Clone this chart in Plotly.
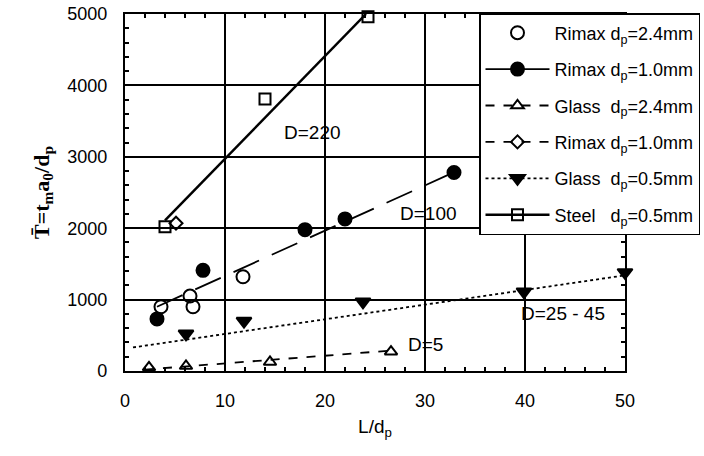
import plotly.graph_objects as go

# ---- data ----
rimax24_x = [3.6, 6.5, 6.8, 11.8]
rimax24_y = [900, 1050, 900, 1320]

rimax10_x = [3.2, 7.8, 18.0, 22.0, 32.9]
rimax10_y = [730, 1410, 1980, 2130, 2780]
rimax10_fit_x = [3.2, 33.0]
rimax10_fit_y = [900, 2790]

glass24_x = [2.4, 6.1, 14.5, 26.6]
glass24_y = [50, 70, 126, 270]
glass24_fit_x = [2.0, 27.0]
glass24_fit_y = [20, 290]

rimaxd_x = [5.1]
rimaxd_y = [2070]

glass05_x = [6.1, 11.9, 23.8, 39.9, 50.0]
glass05_y = [520, 700, 970, 1110, 1380]
glass05_fit_x = [0.8, 50.0]
glass05_fit_y = [330, 1340]

steel_x = [4.0, 14.0, 24.3]
steel_y = [2020, 3810, 4960]
steel_fit_x = [4.0, 24.1]
steel_fit_y = [2110, 5000]

labels = ["Rimax d<sub>p</sub>=2.4mm", "Rimax d<sub>p</sub>=1.0mm", "Glass  d<sub>p</sub>=2.4mm",
          "Rimax d<sub>p</sub>=1.0mm", "Glass  d<sub>p</sub>=0.5mm", "Steel   d<sub>p</sub>=0.5mm"]

ann_text = ["D=220", "D=100", "D=25 - 45", "D=5"]
ann_x = [18.7, 30.3, 43.8, 30.0]
ann_y = [3340, 2210, 800, 365]

FONT = "Liberation Sans, Arial, sans-serif"
K = "black"

fig = go.Figure()

series = [
    # x, y, fitx, fity, symbol, size, dash, label
    (rimax24_x, rimax24_y, None, None, "circle-open", 13, None, labels[0]),
    (rimax10_x, rimax10_y, rimax10_fit_x, rimax10_fit_y, "circle", 13, "28px,14px", labels[1]),
    (glass24_x, glass24_y, glass24_fit_x, glass24_fit_y, "triangle-up-open", 11, "dash", labels[2]),
    (rimaxd_x, rimaxd_y, None, None, "diamond-open", 10, "dash", labels[3]),
    (glass05_x, glass05_y, glass05_fit_x, glass05_fit_y, "triangle-down", 13, "dot", labels[4]),
    (steel_x, steel_y, steel_fit_x, steel_fit_y, "square-open", 11, "solid", labels[5]),
]

for i, (x, y, fx, fy, sym, sz, dash, lab) in enumerate(series):
    g = f"g{i}"
    lw = 2.5 if dash == "solid" else 1.8
    if fx is not None:
        fig.add_trace(go.Scatter(x=fx, y=fy, mode="lines", line=dict(color=K, width=lw, dash=dash),
                                 showlegend=False, legendgroup=g, hoverinfo="skip"))
    fig.add_trace(go.Scatter(x=x, y=y, mode="markers",
                             marker=dict(symbol=sym, size=sz, color=K, line=dict(color=K, width=2)),
                             showlegend=False, legendgroup=g, cliponaxis=False))
    # legend entry
    fig.add_trace(go.Scatter(x=[None], y=[None], mode="markers" if dash is None else "lines+markers",
                             marker=dict(symbol=sym, size=sz, color=K, line=dict(color=K, width=2)),
                             line=dict(color=K, width=lw, dash=dash if dash != "28px,14px" else "solid"),
                             name=lab, legendgroup=g, showlegend=True))

for t, x, y in zip(ann_text, ann_x, ann_y):
    fig.add_annotation(x=x, y=y, text=t, showarrow=False, font=dict(family=FONT, size=19, color=K))

axis_common = dict(
    showline=True, linecolor=K, linewidth=2.2, mirror="ticks",
    ticks="inside", ticklen=7, tickwidth=1.5, tickcolor=K,
    showgrid=True, gridcolor=K, gridwidth=1.5, zeroline=False,
    tickfont=dict(family=FONT, size=18, color=K),
)

fig.update_xaxes(range=[0, 50], dtick=10, tick0=0,
                 minor=dict(dtick=2, ticks="inside", ticklen=4, tickcolor=K, showgrid=False),
                 ticklabelstandoff=12,
                 title=dict(text="L/d<sub>p</sub>", font=dict(family=FONT, size=19, color=K), standoff=10),
                 **axis_common)
fig.update_yaxes(range=[0, 5000], dtick=1000, tick0=0,
                 minor=dict(dtick=200, ticks="inside", ticklen=4, tickcolor=K, showgrid=False),
                 ticklabelstandoff=12,
                 title=dict(text="<b>T\u0304=t<sub>m</sub>a<sub>0</sub>/d<sub>p</sub></b>",
                            font=dict(family="Liberation Serif, Times New Roman, serif", size=22, color=K),
                            standoff=12),
                 **axis_common)

fig.update_layout(
    width=704, height=456,
    margin=dict(l=125, r=79, t=14, b=85, autoexpand=False),
    paper_bgcolor="white", plot_bgcolor="white",
    legend=dict(xref="container", yref="container", x=479 / 704, y=1 - 13 / 456,
                xanchor="left", yanchor="top",
                bgcolor="white", bordercolor=K, borderwidth=1.5,
                font=dict(family=FONT, size=18, color=K),
                traceorder="grouped", tracegroupgap=10, itemwidth=64),
    font=dict(family=FONT, color=K),
)

fig.write_html("out.html")
